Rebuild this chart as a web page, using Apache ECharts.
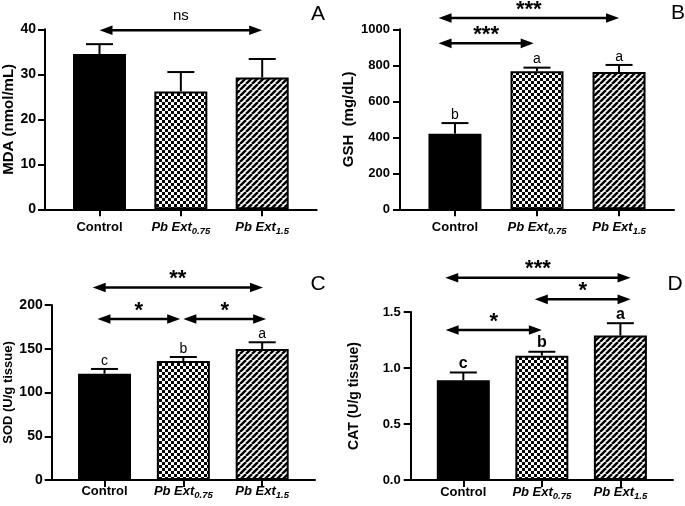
<!DOCTYPE html>
<html><head><meta charset="utf-8">
<script src="https://cdn.jsdelivr.net/npm/echarts@6/dist/echarts.min.js"></script>
<style>html,body{margin:0;padding:0;background:#fff}#c{width:685px;height:506px}</style>
</head><body><div id="c"></div>
<script>
// ---- data ----
const catMain = ['Control', 'Pb Ext', 'Pb Ext'];
const catSub = ['', '0.75', '1.5'];
const catPos = [0, 1, 2];

const mdaMean = [34.5, 26.2, 29.3];
const mdaErr = [2.2, 4.3, 4.1];
const mdaLetters = ['', '', ''];
const mdaSig = [[0, 2, 39.8, 'ns']];

const gshMean = [420, 767, 763];
const gshErr = [59, 20, 39];
const gshLetters = ['b', 'a', 'a'];
const gshSig = [[-0.2, 2.0, 1063, '***'], [-0.2, 0.96, 922, '***']];

const sodMean = [121.5, 136, 149.7];
const sodErr = [5.4, 4.6, 7.7];
const sodLetters = ['c', 'b', 'a'];
const sodSig = [[-0.15, 2.01, 220, '**'], [-0.09, 0.96, 184, '*'], [1.0, 2.05, 184, '*']];

const catMeanD = [0.89, 1.11, 1.29];
const catErrD = [0.07, 0.035, 0.11];
const catLettersD = ['c', 'b', 'a'];
const catSigD = [[-0.23, 2.13, 1.806, '***'], [0.91, 2.13, 1.613, '*'], [-0.225, 1.0, 1.339, '*']];

const yNames = ['MDA (nmol/mL)', 'GSH  (mg/dL)', 'SOD (U/g tissue)', 'CAT (U/g tissue)'];
const yMax = [40, 1000, 200, 1.5];
const yInterval = [10, 200, 50, 0.5];
const panelTags = ['A', 'B', 'C', 'D'];

// ---- styling ----
const FONT = '"Liberation Sans", Arial, Helvetica, sans-serif';
function checker() {
  const c = document.createElement('canvas'); c.width = 6; c.height = 6;
  const g = c.getContext('2d');
  g.fillStyle = '#fff'; g.fillRect(0, 0, 6, 6);
  g.fillStyle = '#000'; g.fillRect(0, 0, 3, 3); g.fillRect(3, 3, 3, 3);
  return c;
}
function stripes() {
  const c = document.createElement('canvas'); c.width = 6; c.height = 6;
  const g = c.getContext('2d');
  g.fillStyle = '#fff'; g.fillRect(0, 0, 6, 6);
  g.strokeStyle = '#000'; g.lineWidth = 2.5;
  for (const k of [-6, 0, 6]) { g.beginPath(); g.moveTo(k, 6); g.lineTo(k + 6, 0); g.stroke(); }
  return c;
}
const fills = ['#000', { image: checker(), repeat: 'repeat' }, { image: stripes(), repeat: 'repeat' }];

const grids = [
  { left: 45, top: 29.3, width: 271.7, height: 180 },
  { left: 400, top: 29.3, width: 274, height: 180 },
  { left: 51.7, top: 305, width: 263.3, height: 175 },
  { left: 410.7, top: 312, width: 262.3, height: 168 }
];
const nameGaps = [29, 44, 37, 50];
const nameSizes = [15, 15, 13, 14];
const tickSizes = [14, 13, 14, 13];
const labelMargins = [9, 10, 9, 10];
const xLabelMargins = [9, 9, 2, 3];
const letterStyles = [
  { fontSize: 14, fontWeight: 'normal' },
  { fontSize: 14, fontWeight: 'normal' },
  { fontSize: 14, fontWeight: 'normal' },
  { fontSize: 16, fontWeight: 'bold' }
];

const panels = [
  [mdaMean, mdaErr, mdaLetters, mdaSig],
  [gshMean, gshErr, gshLetters, gshSig],
  [sodMean, sodErr, sodLetters, sodSig],
  [catMeanD, catErrD, catLettersD, catSigD]
];

const xAxes = [], yAxes = [], series = [];
panels.forEach((p, i) => {
  const [mean, err, letters, sig] = p;
  xAxes.push({
    gridIndex: i, type: 'value', min: -0.67, max: 2.67,
    axisLine: { show: true, onZero: false, lineStyle: { color: '#000', width: 2 } },
    splitLine: { show: false },
    axisTick: { show: true, customValues: catPos, length: 7, lineStyle: { color: '#000', width: 2 } },
    axisLabel: {
      customValues: catPos, margin: xLabelMargins[i], color: '#000', fontSize: 13, fontWeight: 'bold', fontFamily: FONT,
      formatter: v => {
        const k = Math.round(v);
        return catSub[k] ? '{i|' + catMain[k] + '}{s|' + catSub[k] + '}' : '{n|' + catMain[k] + '}';
      },
      rich: {
        n: { fontSize: 13, fontWeight: 'bold', fontFamily: FONT, color: '#000', lineHeight: 18 },
        i: { fontSize: 13, fontWeight: 'bold', fontStyle: 'italic', fontFamily: FONT, color: '#000', lineHeight: 18 },
        s: { fontSize: 9.5, fontWeight: 'bold', fontStyle: 'italic', fontFamily: FONT, color: '#000', verticalAlign: 'bottom' }
      }
    }
  });
  yAxes.push({
    gridIndex: i, type: 'value', min: 0, max: yMax[i], interval: yInterval[i],
    axisLine: { show: true, onZero: false, lineStyle: { color: '#000', width: 2 } },
    axisTick: { show: true, length: 7, lineStyle: { color: '#000', width: 2 } },
    splitLine: { show: false },
    axisLabel: {
      color: '#000', fontWeight: 'bold', fontSize: tickSizes[i], fontFamily: FONT, margin: labelMargins[i],
      formatter: v => (i === 3 ? v.toFixed(1) : String(v))
    },
    name: yNames[i], nameLocation: 'middle', nameGap: nameGaps[i],
    nameTextStyle: { color: '#000', fontWeight: 'bold', fontSize: nameSizes[i], fontFamily: FONT }
  });
  series.push({
    type: 'bar', xAxisIndex: i, yAxisIndex: i, barWidth: 53, z: 2,
    data: mean.map((m, k) => ({ value: [catPos[k], m], itemStyle: { color: fills[k], borderColor: '#000', borderWidth: 2 } })),
    animation: false
  });
  series.push({
    type: 'custom', xAxisIndex: i, yAxisIndex: i, z: 3, animation: false, clip: false,
    encode: { x: 0, y: 1 },
    data: mean.map((m, k) => [catPos[k], m, err[k]]),
    renderItem: (params, api) => {
      const x = api.value(0), m = api.value(1), e = api.value(2);
      const top = api.coord([x, m + e]);
      const base = api.coord([x, m]);
      const ch = [
        { type: 'line', shape: { x1: top[0], y1: base[1], x2: top[0], y2: top[1] }, style: { stroke: '#000', lineWidth: 2 } },
        { type: 'line', shape: { x1: top[0] - 13.5, y1: top[1], x2: top[0] + 13.5, y2: top[1] }, style: { stroke: '#000', lineWidth: 2 } }
      ];
      const t = letters[params.dataIndex];
      if (t) ch.push({
        type: 'text', x: top[0], y: top[1] - 1,
        style: { text: t, fill: '#000', fontFamily: FONT, fontSize: letterStyles[i].fontSize, fontWeight: letterStyles[i].fontWeight, align: 'center', verticalAlign: 'bottom' }
      });
      return { type: 'group', children: ch };
    }
  });
  series.push({
    type: 'custom', xAxisIndex: i, yAxisIndex: i, z: 4, animation: false, clip: false,
    encode: { x: [0, 1], y: 2 },
    data: sig.map(s => [s[0], s[1], s[2]]),
    renderItem: (params, api) => {
      const a = api.coord([api.value(0), api.value(2)]);
      const b = api.coord([api.value(1), api.value(2)]);
      const y = a[1], hl = 13, hh = 4.8;
      const lab = sig[params.dataIndex][3];
      const isNs = lab === 'ns';
      return {
        type: 'group', children: [
          { type: 'line', shape: { x1: a[0] + hl - 2, y1: y, x2: b[0] - hl + 2, y2: y }, style: { stroke: '#000', lineWidth: 2.5 } },
          { type: 'polygon', shape: { points: [[a[0], y], [a[0] + hl, y - hh], [a[0] + hl, y + hh]] }, style: { fill: '#000' } },
          { type: 'polygon', shape: { points: [[b[0], y], [b[0] - hl, y - hh], [b[0] - hl, y + hh]] }, style: { fill: '#000' } },
          {
            type: 'text', x: (a[0] + b[0]) / 2, y: isNs ? y - 14 : y - 8.5,
            style: { text: lab, fill: '#000', fontFamily: FONT, fontSize: isNs ? 15 : 22, fontWeight: isNs ? 'normal' : 'bold', align: 'center', verticalAlign: 'middle' }
          }
        ]
      };
    }
  });
});

const tagPos = [[318, 14], [678, 13], [318, 284], [675, 284]];
const chart = echarts.init(document.getElementById('c'), null, { renderer: 'canvas' });
chart.setOption({
  animation: false,
  backgroundColor: '#fff',
  grid: grids,
  xAxis: xAxes,
  yAxis: yAxes,
  series: series,
  graphic: panelTags.map((t, i) => ({
    type: 'text', x: tagPos[i][0], y: tagPos[i][1],
    style: { text: t, fill: '#000', fontFamily: FONT, fontSize: 21, align: 'center', verticalAlign: 'middle' }
  }))
});
</script></body></html>
